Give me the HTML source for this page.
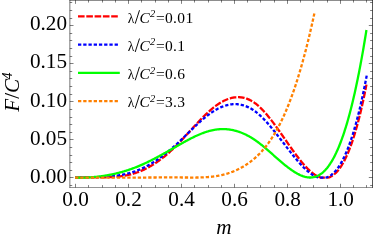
<!DOCTYPE html>
<html><head><meta charset="utf-8"><title>plot</title>
<style>html,body{margin:0;padding:0;background:#fff;}body{width:374px;height:240px;overflow:hidden;font-family:"Liberation Serif",serif;}</style>
</head><body>
<svg width="374" height="240" viewBox="0 0 374 240" style="display:block;will-change:transform">
<rect width="374" height="240" fill="#fff"/>
<g fill="none" stroke-width="2.3" stroke-linecap="butt" stroke-linejoin="round">
<path d="M75.00,177.70 L75.58,177.66 L76.17,177.63 L76.75,177.60 L77.34,177.57 L77.92,177.55 L78.50,177.52 L79.09,177.50 L79.67,177.48 L80.26,177.46 L80.84,177.45 L81.42,177.43 L82.01,177.42 L82.59,177.41 L83.18,177.40 L83.76,177.39 L84.35,177.38 L84.93,177.38 L85.51,177.37 L86.10,177.37 L86.68,177.36 L87.27,177.36 L87.85,177.36 L88.43,177.36 L89.02,177.36 L89.60,177.36 L90.19,177.36 L90.77,177.36 L91.35,177.37 L91.94,177.37 L92.52,177.37 L93.11,177.37 L93.69,177.38 L94.27,177.38 L94.86,177.38 L95.44,177.38 L96.03,177.39 L96.61,177.39 L97.19,177.39 L97.78,177.39 L98.36,177.39 L98.95,177.39 L99.53,177.39 L100.11,177.39 L100.70,177.39 L101.28,177.39 L101.87,177.38 L102.45,177.38 L103.04,177.37 L103.62,177.37 L104.20,177.36 L104.79,177.35 L105.37,177.34 L105.96,177.32 L106.54,177.31 L107.12,177.29 L107.71,177.27 L108.29,177.26 L108.88,177.23 L109.46,177.21 L110.04,177.18 L110.63,177.16 L111.21,177.13 L111.80,177.10 L112.38,177.06 L112.96,177.02 L113.55,176.98 L114.13,176.94 L114.72,176.90 L115.30,176.85 L115.88,176.80 L116.47,176.75 L117.05,176.69 L117.64,176.63 L118.22,176.57 L118.81,176.51 L119.39,176.44 L119.97,176.36 L120.56,176.29 L121.14,176.21 L121.73,176.13 L122.31,176.04 L122.89,175.95 L123.48,175.86 L124.06,175.76 L124.65,175.66 L125.23,175.56 L125.81,175.45 L126.40,175.33 L126.98,175.22 L127.57,175.09 L128.15,174.97 L128.73,174.84 L129.32,174.70 L129.90,174.56 L130.49,174.42 L131.07,174.27 L131.65,174.11 L132.24,173.95 L132.82,173.79 L133.41,173.62 L133.99,173.44 L134.57,173.26 L135.16,173.08 L135.74,172.89 L136.33,172.69 L136.91,172.49 L137.50,172.28 L138.08,172.07 L138.66,171.85 L139.25,171.63 L139.83,171.40 L140.42,171.16 L141.00,170.92 L141.58,170.67 L142.17,170.42 L142.75,170.16 L143.34,169.89 L143.92,169.62 L144.50,169.35 L145.09,169.06 L145.67,168.78 L146.26,168.48 L146.84,168.18 L147.42,167.87 L148.01,167.56 L148.59,167.25 L149.18,166.92 L149.76,166.59 L150.34,166.26 L150.93,165.92 L151.51,165.57 L152.10,165.22 L152.68,164.86 L153.27,164.50 L153.85,164.13 L154.43,163.76 L155.02,163.37 L155.60,162.99 L156.19,162.60 L156.77,162.20 L157.35,161.80 L157.94,161.39 L158.52,160.97 L159.11,160.55 L159.69,160.13 L160.27,159.70 L160.86,159.26 L161.44,158.82 L162.03,158.37 L162.61,157.91 L163.19,157.45 L163.78,156.99 L164.36,156.52 L164.95,156.04 L165.53,155.56 L166.11,155.07 L166.70,154.58 L167.28,154.08 L167.87,153.58 L168.45,153.07 L169.03,152.55 L169.62,152.03 L170.20,151.51 L170.79,150.98 L171.37,150.44 L171.96,149.90 L172.54,149.35 L173.12,148.80 L173.71,148.24 L174.29,147.67 L174.88,147.10 L175.46,146.53 L176.04,145.95 L176.63,145.36 L177.21,144.77 L177.80,144.18 L178.38,143.58 L178.96,142.98 L179.55,142.37 L180.13,141.76 L180.72,141.14 L181.30,140.52 L181.88,139.90 L182.47,139.28 L183.05,138.65 L183.64,138.02 L184.22,137.39 L184.80,136.76 L185.39,136.12 L185.97,135.48 L186.56,134.84 L187.14,134.21 L187.73,133.56 L188.31,132.92 L188.89,132.28 L189.48,131.64 L190.06,131.00 L190.65,130.35 L191.23,129.71 L191.81,129.07 L192.40,128.43 L192.98,127.79 L193.57,127.15 L194.15,126.51 L194.73,125.88 L195.32,125.24 L195.90,124.61 L196.49,123.98 L197.07,123.35 L197.65,122.73 L198.24,122.11 L198.82,121.49 L199.41,120.87 L199.99,120.26 L200.57,119.65 L201.16,119.05 L201.74,118.45 L202.33,117.85 L202.91,117.26 L203.49,116.68 L204.08,116.10 L204.66,115.52 L205.25,114.95 L205.83,114.38 L206.42,113.82 L207.00,113.27 L207.58,112.73 L208.17,112.19 L208.75,111.65 L209.34,111.13 L209.92,110.61 L210.50,110.09 L211.09,109.59 L211.67,109.09 L212.26,108.61 L212.84,108.13 L213.42,107.65 L214.01,107.19 L214.59,106.74 L215.18,106.29 L215.76,105.86 L216.34,105.43 L216.93,105.01 L217.51,104.61 L218.10,104.21 L218.68,103.82 L219.26,103.44 L219.85,103.07 L220.43,102.72 L221.02,102.37 L221.60,102.03 L222.19,101.70 L222.77,101.39 L223.35,101.08 L223.94,100.79 L224.52,100.50 L225.11,100.23 L225.69,99.97 L226.27,99.72 L226.86,99.48 L227.44,99.25 L228.03,99.03 L228.61,98.82 L229.19,98.63 L229.78,98.45 L230.36,98.28 L230.95,98.12 L231.53,97.97 L232.11,97.83 L232.70,97.71 L233.28,97.60 L233.87,97.50 L234.45,97.42 L235.03,97.34 L235.62,97.28 L236.20,97.24 L236.79,97.20 L237.37,97.18 L237.96,97.17 L238.54,97.18 L239.12,97.20 L239.71,97.23 L240.29,97.27 L240.88,97.33 L241.46,97.40 L242.04,97.49 L242.63,97.59 L243.21,97.70 L243.80,97.83 L244.38,97.97 L244.96,98.13 L245.55,98.30 L246.13,98.48 L246.72,98.68 L247.30,98.90 L247.88,99.13 L248.47,99.37 L249.05,99.63 L249.64,99.91 L250.22,100.20 L250.80,100.50 L251.39,100.82 L251.97,101.16 L252.56,101.51 L253.14,101.88 L253.72,102.26 L254.31,102.66 L254.89,103.07 L255.48,103.50 L256.06,103.95 L256.65,104.41 L257.23,104.89 L257.81,105.38 L258.40,105.89 L258.98,106.41 L259.57,106.94 L260.15,107.49 L260.73,108.06 L261.32,108.63 L261.90,109.22 L262.49,109.82 L263.07,110.43 L263.65,111.06 L264.24,111.69 L264.82,112.34 L265.41,113.00 L265.99,113.66 L266.57,114.34 L267.16,115.03 L267.74,115.73 L268.33,116.44 L268.91,117.15 L269.49,117.88 L270.08,118.61 L270.66,119.35 L271.25,120.10 L271.83,120.86 L272.42,121.62 L273.00,122.39 L273.58,123.17 L274.17,123.95 L274.75,124.74 L275.34,125.54 L275.92,126.34 L276.50,127.14 L277.09,127.95 L277.67,128.76 L278.26,129.58 L278.84,130.40 L279.42,131.23 L280.01,132.06 L280.59,132.89 L281.18,133.72 L281.76,134.55 L282.34,135.39 L282.93,136.23 L283.51,137.07 L284.10,137.91 L284.68,138.75 L285.26,139.59 L285.85,140.43 L286.43,141.27 L287.02,142.11 L287.60,142.95 L288.18,143.79 L288.77,144.62 L289.35,145.46 L289.94,146.29 L290.52,147.12 L291.11,147.95 L291.69,148.77 L292.27,149.59 L292.86,150.40 L293.44,151.21 L294.03,152.02 L294.61,152.82 L295.19,153.62 L295.78,154.41 L296.36,155.20 L296.95,155.98 L297.53,156.75 L298.11,157.52 L298.70,158.28 L299.28,159.03 L299.87,159.77 L300.45,160.50 L301.03,161.23 L301.62,161.94 L302.20,162.65 L302.79,163.34 L303.37,164.03 L303.95,164.70 L304.54,165.36 L305.12,166.01 L305.71,166.65 L306.29,167.27 L306.88,167.89 L307.46,168.48 L308.04,169.07 L308.63,169.64 L309.21,170.19 L309.80,170.73 L310.38,171.25 L310.96,171.76 L311.55,172.25 L312.13,172.73 L312.72,173.18 L313.30,173.62 L313.88,174.04 L314.47,174.45 L315.05,174.83 L315.64,175.19 L316.22,175.54 L316.80,175.86 L317.39,176.17 L317.97,176.45 L318.56,176.71 L319.14,176.95 L319.72,177.17 L320.31,177.37 L320.89,177.54 L321.48,177.69 L322.06,177.70 L322.64,177.70 L323.23,177.70 L323.81,177.70 L324.40,177.70 L324.98,177.70 L325.57,177.70 L326.15,177.70 L326.73,177.70 L327.32,177.70 L327.90,177.67 L328.49,177.50 L329.07,177.31 L329.65,177.09 L330.24,176.84 L330.82,176.56 L331.41,176.25 L331.99,175.90 L332.57,175.53 L333.16,175.13 L333.74,174.69 L334.33,174.22 L334.91,173.72 L335.49,173.19 L336.08,172.62 L336.66,172.01 L337.25,171.38 L337.83,170.70 L338.41,170.00 L339.00,169.25 L339.58,168.47 L340.17,167.65 L340.75,166.80 L341.34,165.90 L341.92,164.97 L342.50,164.00 L343.09,162.99 L343.67,161.94 L344.26,160.85 L344.84,159.72 L345.42,158.55 L346.01,157.33 L346.59,156.07 L347.18,154.77 L347.76,153.43 L348.34,152.04 L348.93,150.61 L349.51,149.13 L350.10,147.61 L350.68,146.04 L351.26,144.43 L351.85,142.77 L352.43,141.06 L353.02,139.30 L353.60,137.50 L354.18,135.65 L354.77,133.74 L355.35,131.79 L355.94,129.79 L356.52,127.74 L357.10,125.63 L357.69,123.48 L358.27,121.27 L358.86,119.01 L359.44,116.70 L360.03,114.33 L360.61,111.91 L361.19,109.43 L361.78,106.90 L362.36,104.32 L362.95,101.68 L363.53,98.98 L364.11,96.22 L364.70,93.41 L365.28,90.54 L365.87,87.61 L366.45,84.62" stroke="#ff0000" stroke-dasharray="6.6 1.7"/>
<path d="M75.00,177.70 L75.58,177.67 L76.17,177.64 L76.75,177.62 L77.34,177.59 L77.92,177.57 L78.51,177.55 L79.09,177.52 L79.68,177.50 L80.26,177.49 L80.85,177.47 L81.43,177.45 L82.01,177.43 L82.60,177.42 L83.18,177.40 L83.77,177.39 L84.35,177.38 L84.94,177.36 L85.52,177.35 L86.11,177.34 L86.69,177.33 L87.28,177.31 L87.86,177.30 L88.45,177.29 L89.03,177.28 L89.61,177.27 L90.20,177.26 L90.78,177.25 L91.37,177.24 L91.95,177.23 L92.54,177.21 L93.12,177.20 L93.71,177.19 L94.29,177.18 L94.88,177.16 L95.46,177.15 L96.04,177.13 L96.63,177.12 L97.21,177.10 L97.80,177.08 L98.38,177.07 L98.97,177.05 L99.55,177.03 L100.14,177.00 L100.72,176.98 L101.31,176.96 L101.89,176.93 L102.47,176.91 L103.06,176.88 L103.64,176.85 L104.23,176.82 L104.81,176.79 L105.40,176.75 L105.98,176.71 L106.57,176.68 L107.15,176.64 L107.74,176.60 L108.32,176.55 L108.91,176.51 L109.49,176.46 L110.07,176.41 L110.66,176.36 L111.24,176.30 L111.83,176.24 L112.41,176.18 L113.00,176.12 L113.58,176.06 L114.17,175.99 L114.75,175.92 L115.34,175.85 L115.92,175.77 L116.50,175.69 L117.09,175.61 L117.67,175.53 L118.26,175.44 L118.84,175.35 L119.43,175.25 L120.01,175.16 L120.60,175.06 L121.18,174.95 L121.77,174.84 L122.35,174.73 L122.93,174.62 L123.52,174.50 L124.10,174.38 L124.69,174.25 L125.27,174.12 L125.86,173.99 L126.44,173.85 L127.03,173.71 L127.61,173.56 L128.20,173.41 L128.78,173.26 L129.36,173.10 L129.95,172.94 L130.53,172.77 L131.12,172.60 L131.70,172.42 L132.29,172.24 L132.87,172.06 L133.46,171.87 L134.04,171.67 L134.63,171.47 L135.21,171.27 L135.80,171.06 L136.38,170.84 L136.96,170.62 L137.55,170.40 L138.13,170.17 L138.72,169.93 L139.30,169.69 L139.89,169.44 L140.47,169.19 L141.06,168.93 L141.64,168.67 L142.23,168.40 L142.81,168.13 L143.39,167.85 L143.98,167.56 L144.56,167.28 L145.15,166.98 L145.73,166.68 L146.32,166.38 L146.90,166.07 L147.49,165.75 L148.07,165.43 L148.66,165.11 L149.24,164.78 L149.82,164.44 L150.41,164.10 L150.99,163.76 L151.58,163.41 L152.16,163.05 L152.75,162.69 L153.33,162.33 L153.92,161.96 L154.50,161.59 L155.09,161.21 L155.67,160.82 L156.26,160.44 L156.84,160.04 L157.42,159.65 L158.01,159.24 L158.59,158.84 L159.18,158.42 L159.76,158.01 L160.35,157.59 L160.93,157.16 L161.52,156.73 L162.10,156.30 L162.69,155.86 L163.27,155.41 L163.85,154.97 L164.44,154.51 L165.02,154.06 L165.61,153.60 L166.19,153.13 L166.78,152.66 L167.36,152.19 L167.95,151.71 L168.53,151.23 L169.12,150.74 L169.70,150.25 L170.28,149.76 L170.87,149.26 L171.45,148.75 L172.04,148.25 L172.62,147.73 L173.21,147.22 L173.79,146.70 L174.38,146.18 L174.96,145.65 L175.55,145.12 L176.13,144.58 L176.72,144.04 L177.30,143.50 L177.88,142.95 L178.47,142.41 L179.05,141.85 L179.64,141.30 L180.22,140.74 L180.81,140.19 L181.39,139.63 L181.98,139.06 L182.56,138.50 L183.15,137.93 L183.73,137.37 L184.31,136.80 L184.90,136.23 L185.48,135.66 L186.07,135.09 L186.65,134.52 L187.24,133.95 L187.82,133.38 L188.41,132.81 L188.99,132.24 L189.58,131.67 L190.16,131.10 L190.74,130.53 L191.33,129.97 L191.91,129.40 L192.50,128.84 L193.08,128.28 L193.67,127.72 L194.25,127.16 L194.84,126.61 L195.42,126.05 L196.01,125.50 L196.59,124.96 L197.17,124.41 L197.76,123.87 L198.34,123.34 L198.93,122.80 L199.51,122.28 L200.10,121.75 L200.68,121.23 L201.27,120.71 L201.85,120.20 L202.44,119.70 L203.02,119.19 L203.61,118.70 L204.19,118.21 L204.77,117.72 L205.36,117.24 L205.94,116.77 L206.53,116.30 L207.11,115.84 L207.70,115.39 L208.28,114.94 L208.87,114.50 L209.45,114.07 L210.04,113.64 L210.62,113.22 L211.20,112.81 L211.79,112.41 L212.37,112.01 L212.96,111.63 L213.54,111.25 L214.13,110.88 L214.71,110.52 L215.30,110.17 L215.88,109.83 L216.47,109.50 L217.05,109.17 L217.63,108.86 L218.22,108.55 L218.80,108.26 L219.39,107.97 L219.97,107.70 L220.56,107.43 L221.14,107.18 L221.73,106.93 L222.31,106.69 L222.90,106.47 L223.48,106.25 L224.07,106.04 L224.65,105.85 L225.23,105.66 L225.82,105.49 L226.40,105.32 L226.99,105.17 L227.57,105.02 L228.16,104.89 L228.74,104.77 L229.33,104.65 L229.91,104.55 L230.50,104.46 L231.08,104.38 L231.66,104.31 L232.25,104.26 L232.83,104.21 L233.42,104.17 L234.00,104.15 L234.59,104.14 L235.17,104.13 L235.76,104.14 L236.34,104.16 L236.93,104.20 L237.51,104.24 L238.09,104.30 L238.68,104.37 L239.26,104.44 L239.85,104.54 L240.43,104.64 L241.02,104.76 L241.60,104.88 L242.19,105.02 L242.77,105.17 L243.36,105.34 L243.94,105.51 L244.53,105.70 L245.11,105.90 L245.69,106.12 L246.28,106.34 L246.86,106.58 L247.45,106.84 L248.03,107.10 L248.62,107.38 L249.20,107.67 L249.79,107.97 L250.37,108.29 L250.96,108.62 L251.54,108.96 L252.12,109.31 L252.71,109.68 L253.29,110.07 L253.88,110.46 L254.46,110.87 L255.05,111.30 L255.63,111.73 L256.22,112.18 L256.80,112.64 L257.39,113.12 L257.97,113.61 L258.55,114.11 L259.14,114.62 L259.72,115.15 L260.31,115.68 L260.89,116.23 L261.48,116.79 L262.06,117.35 L262.65,117.93 L263.23,118.52 L263.82,119.12 L264.40,119.73 L264.98,120.34 L265.57,120.97 L266.15,121.60 L266.74,122.24 L267.32,122.89 L267.91,123.55 L268.49,124.22 L269.08,124.89 L269.66,125.57 L270.25,126.26 L270.83,126.95 L271.42,127.65 L272.00,128.36 L272.58,129.07 L273.17,129.78 L273.75,130.50 L274.34,131.23 L274.92,131.96 L275.51,132.70 L276.09,133.43 L276.68,134.18 L277.26,134.92 L277.85,135.67 L278.43,136.42 L279.01,137.17 L279.60,137.93 L280.18,138.69 L280.77,139.45 L281.35,140.21 L281.94,140.97 L282.52,141.73 L283.11,142.50 L283.69,143.26 L284.28,144.03 L284.86,144.79 L285.44,145.55 L286.03,146.32 L286.61,147.08 L287.20,147.84 L287.78,148.60 L288.37,149.35 L288.95,150.11 L289.54,150.86 L290.12,151.61 L290.71,152.35 L291.29,153.10 L291.88,153.84 L292.46,154.57 L293.04,155.30 L293.63,156.03 L294.21,156.75 L294.80,157.47 L295.38,158.18 L295.97,158.89 L296.55,159.59 L297.14,160.28 L297.72,160.97 L298.31,161.65 L298.89,162.32 L299.47,162.98 L300.06,163.64 L300.64,164.29 L301.23,164.92 L301.81,165.55 L302.40,166.17 L302.98,166.77 L303.57,167.37 L304.15,167.95 L304.74,168.53 L305.32,169.09 L305.90,169.63 L306.49,170.17 L307.07,170.69 L307.66,171.19 L308.24,171.68 L308.83,172.16 L309.41,172.62 L310.00,173.07 L310.58,173.50 L311.17,173.91 L311.75,174.31 L312.34,174.68 L312.92,175.05 L313.50,175.39 L314.09,175.71 L314.67,176.02 L315.26,176.30 L315.84,176.57 L316.43,176.81 L317.01,177.04 L317.60,177.24 L318.18,177.42 L318.77,177.58 L319.35,177.70 L319.93,177.70 L320.52,177.70 L321.10,177.70 L321.69,177.70 L322.27,177.70 L322.86,177.70 L323.44,177.70 L324.03,177.70 L324.61,177.70 L325.20,177.70 L325.78,177.62 L326.36,177.46 L326.95,177.27 L327.53,177.04 L328.12,176.79 L328.70,176.52 L329.29,176.21 L329.87,175.87 L330.46,175.50 L331.04,175.10 L331.63,174.67 L332.21,174.20 L332.79,173.71 L333.38,173.18 L333.96,172.62 L334.55,172.02 L335.13,171.40 L335.72,170.73 L336.30,170.04 L336.89,169.30 L337.47,168.54 L338.06,167.73 L338.64,166.89 L339.23,166.02 L339.81,165.10 L340.39,164.15 L340.98,163.16 L341.56,162.13 L342.15,161.07 L342.73,159.96 L343.32,158.81 L343.90,157.63 L344.49,156.40 L345.07,155.13 L345.66,153.82 L346.24,152.47 L346.82,151.08 L347.41,149.65 L347.99,148.17 L348.58,146.64 L349.16,145.08 L349.75,143.47 L350.33,141.81 L350.92,140.11 L351.50,138.37 L352.09,136.57 L352.67,134.74 L353.25,132.85 L353.84,130.92 L354.42,128.94 L355.01,126.91 L355.59,124.83 L356.18,122.70 L356.76,120.53 L357.35,118.30 L357.93,116.03 L358.52,113.70 L359.10,111.32 L359.69,108.90 L360.27,106.41 L360.85,103.88 L361.44,101.30 L362.02,98.66 L362.61,95.96 L363.19,93.22 L363.78,90.42 L364.36,87.56 L364.95,84.65 L365.53,81.68 L366.12,78.66 L366.70,75.58" stroke="#0000ff" stroke-dasharray="3.3 1.9466"/>
<path d="M75.00,177.70 L75.58,177.70 L76.17,177.70 L76.75,177.70 L77.34,177.70 L77.92,177.70 L78.50,177.70 L79.09,177.70 L79.67,177.70 L80.26,177.70 L80.84,177.70 L81.42,177.69 L82.01,177.68 L82.59,177.67 L83.18,177.66 L83.76,177.64 L84.35,177.62 L84.93,177.60 L85.51,177.58 L86.10,177.55 L86.68,177.52 L87.27,177.50 L87.85,177.47 L88.43,177.43 L89.02,177.40 L89.60,177.36 L90.19,177.32 L90.77,177.28 L91.35,177.24 L91.94,177.20 L92.52,177.15 L93.11,177.10 L93.69,177.05 L94.27,177.00 L94.86,176.94 L95.44,176.89 L96.03,176.83 L96.61,176.77 L97.19,176.70 L97.78,176.64 L98.36,176.57 L98.95,176.50 L99.53,176.43 L100.11,176.36 L100.70,176.28 L101.28,176.20 L101.87,176.12 L102.45,176.04 L103.04,175.95 L103.62,175.87 L104.20,175.78 L104.79,175.68 L105.37,175.59 L105.96,175.49 L106.54,175.39 L107.12,175.29 L107.71,175.19 L108.29,175.09 L108.88,174.98 L109.46,174.87 L110.04,174.75 L110.63,174.64 L111.21,174.52 L111.80,174.40 L112.38,174.28 L112.96,174.16 L113.55,174.03 L114.13,173.90 L114.72,173.77 L115.30,173.63 L115.88,173.50 L116.47,173.36 L117.05,173.21 L117.64,173.07 L118.22,172.92 L118.81,172.77 L119.39,172.62 L119.97,172.47 L120.56,172.31 L121.14,172.15 L121.73,171.99 L122.31,171.83 L122.89,171.66 L123.48,171.49 L124.06,171.32 L124.65,171.14 L125.23,170.96 L125.81,170.78 L126.40,170.60 L126.98,170.42 L127.57,170.23 L128.15,170.04 L128.73,169.84 L129.32,169.65 L129.90,169.45 L130.49,169.25 L131.07,169.04 L131.65,168.83 L132.24,168.62 L132.82,168.41 L133.41,168.20 L133.99,167.98 L134.57,167.76 L135.16,167.53 L135.74,167.31 L136.33,167.08 L136.91,166.84 L137.50,166.61 L138.08,166.37 L138.66,166.13 L139.25,165.89 L139.83,165.64 L140.42,165.39 L141.00,165.14 L141.58,164.88 L142.17,164.62 L142.75,164.36 L143.34,164.10 L143.92,163.84 L144.50,163.57 L145.09,163.30 L145.67,163.02 L146.26,162.75 L146.84,162.47 L147.42,162.19 L148.01,161.91 L148.59,161.63 L149.18,161.34 L149.76,161.05 L150.34,160.76 L150.93,160.47 L151.51,160.17 L152.10,159.88 L152.68,159.58 L153.27,159.28 L153.85,158.98 L154.43,158.67 L155.02,158.37 L155.60,158.06 L156.19,157.75 L156.77,157.44 L157.35,157.13 L157.94,156.82 L158.52,156.50 L159.11,156.19 L159.69,155.87 L160.27,155.55 L160.86,155.23 L161.44,154.91 L162.03,154.59 L162.61,154.27 L163.19,153.95 L163.78,153.62 L164.36,153.30 L164.95,152.97 L165.53,152.64 L166.11,152.31 L166.70,151.98 L167.28,151.65 L167.87,151.32 L168.45,150.99 L169.03,150.66 L169.62,150.33 L170.20,150.00 L170.79,149.66 L171.37,149.33 L171.96,149.00 L172.54,148.66 L173.12,148.33 L173.71,147.99 L174.29,147.66 L174.88,147.32 L175.46,146.99 L176.04,146.65 L176.63,146.32 L177.21,145.98 L177.80,145.65 L178.38,145.32 L178.96,144.98 L179.55,144.65 L180.13,144.32 L180.72,143.99 L181.30,143.66 L181.88,143.33 L182.47,143.00 L183.05,142.67 L183.64,142.35 L184.22,142.02 L184.80,141.70 L185.39,141.38 L185.97,141.06 L186.56,140.75 L187.14,140.43 L187.73,140.12 L188.31,139.81 L188.89,139.50 L189.48,139.19 L190.06,138.89 L190.65,138.59 L191.23,138.29 L191.81,138.00 L192.40,137.70 L192.98,137.42 L193.57,137.13 L194.15,136.85 L194.73,136.57 L195.32,136.29 L195.90,136.02 L196.49,135.75 L197.07,135.48 L197.65,135.22 L198.24,134.97 L198.82,134.71 L199.41,134.46 L199.99,134.22 L200.57,133.98 L201.16,133.74 L201.74,133.51 L202.33,133.29 L202.91,133.06 L203.49,132.85 L204.08,132.64 L204.66,132.43 L205.25,132.23 L205.83,132.03 L206.42,131.84 L207.00,131.66 L207.58,131.48 L208.17,131.30 L208.75,131.14 L209.34,130.97 L209.92,130.82 L210.50,130.67 L211.09,130.52 L211.67,130.39 L212.26,130.26 L212.84,130.13 L213.42,130.02 L214.01,129.91 L214.59,129.80 L215.18,129.70 L215.76,129.62 L216.34,129.53 L216.93,129.46 L217.51,129.39 L218.10,129.33 L218.68,129.27 L219.26,129.23 L219.85,129.19 L220.43,129.15 L221.02,129.13 L221.60,129.11 L222.19,129.10 L222.77,129.09 L223.35,129.09 L223.94,129.10 L224.52,129.12 L225.11,129.15 L225.69,129.18 L226.27,129.21 L226.86,129.26 L227.44,129.31 L228.03,129.37 L228.61,129.44 L229.19,129.51 L229.78,129.59 L230.36,129.68 L230.95,129.78 L231.53,129.88 L232.11,129.99 L232.70,130.11 L233.28,130.23 L233.87,130.37 L234.45,130.51 L235.03,130.65 L235.62,130.80 L236.20,130.97 L236.79,131.13 L237.37,131.31 L237.96,131.49 L238.54,131.68 L239.12,131.88 L239.71,132.08 L240.29,132.29 L240.88,132.51 L241.46,132.74 L242.04,132.97 L242.63,133.21 L243.21,133.46 L243.80,133.72 L244.38,133.98 L244.96,134.25 L245.55,134.53 L246.13,134.81 L246.72,135.10 L247.30,135.40 L247.88,135.71 L248.47,136.02 L249.05,136.34 L249.64,136.67 L250.22,137.01 L250.80,137.35 L251.39,137.70 L251.97,138.06 L252.56,138.42 L253.14,138.80 L253.72,139.18 L254.31,139.57 L254.89,139.96 L255.48,140.36 L256.06,140.77 L256.65,141.19 L257.23,141.61 L257.81,142.04 L258.40,142.48 L258.98,142.92 L259.57,143.37 L260.15,143.82 L260.73,144.28 L261.32,144.75 L261.90,145.21 L262.49,145.69 L263.07,146.17 L263.65,146.65 L264.24,147.13 L264.82,147.62 L265.41,148.12 L265.99,148.61 L266.57,149.11 L267.16,149.62 L267.74,150.12 L268.33,150.63 L268.91,151.14 L269.49,151.65 L270.08,152.16 L270.66,152.67 L271.25,153.19 L271.83,153.71 L272.42,154.22 L273.00,154.74 L273.58,155.26 L274.17,155.77 L274.75,156.29 L275.34,156.81 L275.92,157.32 L276.50,157.84 L277.09,158.35 L277.67,158.86 L278.26,159.37 L278.84,159.88 L279.42,160.39 L280.01,160.89 L280.59,161.39 L281.18,161.89 L281.76,162.39 L282.34,162.88 L282.93,163.37 L283.51,163.85 L284.10,164.34 L284.68,164.81 L285.26,165.28 L285.85,165.75 L286.43,166.21 L287.02,166.67 L287.60,167.12 L288.18,167.57 L288.77,168.01 L289.35,168.44 L289.94,168.87 L290.52,169.29 L291.11,169.71 L291.69,170.11 L292.27,170.51 L292.86,170.91 L293.44,171.29 L294.03,171.67 L294.61,172.04 L295.19,172.40 L295.78,172.75 L296.36,173.09 L296.95,173.42 L297.53,173.75 L298.11,174.06 L298.70,174.36 L299.28,174.65 L299.87,174.93 L300.45,175.20 L301.03,175.45 L301.62,175.69 L302.20,175.92 L302.79,176.14 L303.37,176.34 L303.95,176.53 L304.54,176.70 L305.12,176.86 L305.71,177.00 L306.29,177.12 L306.88,177.23 L307.46,177.32 L308.04,177.40 L308.63,177.46 L309.21,177.50 L309.80,177.52 L310.38,177.52 L310.96,177.51 L311.55,177.47 L312.13,177.42 L312.72,177.34 L313.30,177.24 L313.88,177.13 L314.47,176.99 L315.05,176.83 L315.64,176.64 L316.22,176.44 L316.80,176.21 L317.39,175.95 L317.97,175.68 L318.56,175.38 L319.14,175.05 L319.72,174.70 L320.31,174.33 L320.89,173.92 L321.48,173.49 L322.06,173.04 L322.64,172.56 L323.23,172.05 L323.81,171.51 L324.40,170.94 L324.98,170.35 L325.57,169.73 L326.15,169.07 L326.73,168.39 L327.32,167.68 L327.90,166.93 L328.49,166.16 L329.07,165.35 L329.65,164.51 L330.24,163.64 L330.82,162.74 L331.41,161.80 L331.99,160.83 L332.57,159.83 L333.16,158.79 L333.74,157.72 L334.33,156.61 L334.91,155.47 L335.49,154.29 L336.08,153.08 L336.66,151.82 L337.25,150.53 L337.83,149.21 L338.41,147.84 L339.00,146.44 L339.58,145.00 L340.17,143.52 L340.75,142.00 L341.34,140.44 L341.92,138.84 L342.50,137.20 L343.09,135.52 L343.67,133.80 L344.26,132.03 L344.84,130.22 L345.42,128.37 L346.01,126.48 L346.59,124.55 L347.18,122.57 L347.76,120.54 L348.34,118.47 L348.93,116.36 L349.51,114.20 L350.10,111.99 L350.68,109.74 L351.26,107.45 L351.85,105.10 L352.43,102.71 L353.02,100.27 L353.60,97.78 L354.18,95.24 L354.77,92.66 L355.35,90.02 L355.94,87.33 L356.52,84.60 L357.10,81.81 L357.69,78.98 L358.27,76.09 L358.86,73.15 L359.44,70.15 L360.03,67.11 L360.61,64.01 L361.19,60.86 L361.78,57.65 L362.36,54.39 L362.95,51.08 L363.53,47.71 L364.11,44.29 L364.70,40.81 L365.28,37.27 L365.87,33.68 L366.45,30.03" stroke="#00ff00"/>
<path d="M75.00,177.70 L75.48,177.70 L75.96,177.70 L76.44,177.70 L76.92,177.70 L77.40,177.70 L77.88,177.70 L78.36,177.70 L78.84,177.70 L79.32,177.70 L79.80,177.70 L80.28,177.70 L80.76,177.70 L81.24,177.70 L81.72,177.70 L82.20,177.70 L82.68,177.70 L83.16,177.70 L83.64,177.70 L84.12,177.70 L84.60,177.70 L85.08,177.70 L85.56,177.70 L86.04,177.70 L86.52,177.70 L87.00,177.70 L87.48,177.70 L87.96,177.70 L88.44,177.70 L88.92,177.70 L89.40,177.70 L89.88,177.70 L90.36,177.70 L90.84,177.70 L91.32,177.70 L91.80,177.70 L92.28,177.70 L92.76,177.70 L93.24,177.70 L93.72,177.70 L94.20,177.70 L94.68,177.70 L95.16,177.70 L95.64,177.70 L96.12,177.70 L96.60,177.70 L97.08,177.70 L97.56,177.70 L98.04,177.70 L98.52,177.70 L99.00,177.70 L99.48,177.70 L99.96,177.70 L100.44,177.70 L100.92,177.70 L101.40,177.70 L101.88,177.70 L102.36,177.70 L102.84,177.70 L103.32,177.70 L103.80,177.70 L104.28,177.70 L104.76,177.70 L105.24,177.70 L105.72,177.70 L106.20,177.70 L106.68,177.70 L107.16,177.70 L107.64,177.70 L108.12,177.70 L108.60,177.70 L109.08,177.70 L109.56,177.70 L110.04,177.70 L110.52,177.70 L111.00,177.70 L111.48,177.70 L111.96,177.70 L112.44,177.70 L112.92,177.70 L113.40,177.70 L113.88,177.70 L114.36,177.70 L114.84,177.70 L115.32,177.70 L115.80,177.70 L116.28,177.70 L116.76,177.70 L117.24,177.70 L117.72,177.70 L118.20,177.70 L118.68,177.70 L119.16,177.70 L119.64,177.70 L120.12,177.70 L120.60,177.70 L121.08,177.70 L121.56,177.70 L122.04,177.70 L122.52,177.69 L123.00,177.69 L123.48,177.69 L123.96,177.68 L124.44,177.68 L124.92,177.68 L125.40,177.68 L125.88,177.67 L126.36,177.67 L126.84,177.66 L127.32,177.66 L127.80,177.66 L128.28,177.65 L128.76,177.65 L129.24,177.65 L129.72,177.64 L130.20,177.64 L130.68,177.64 L131.16,177.63 L131.64,177.63 L132.12,177.63 L132.60,177.62 L133.08,177.62 L133.56,177.62 L134.04,177.61 L134.52,177.61 L134.99,177.61 L135.47,177.60 L135.95,177.60 L136.43,177.60 L136.91,177.59 L137.39,177.59 L137.87,177.59 L138.35,177.58 L138.83,177.58 L139.31,177.58 L139.79,177.57 L140.27,177.57 L140.75,177.57 L141.23,177.56 L141.71,177.56 L142.19,177.56 L142.67,177.55 L143.15,177.55 L143.63,177.55 L144.11,177.54 L144.59,177.54 L145.07,177.54 L145.55,177.53 L146.03,177.53 L146.51,177.53 L146.99,177.53 L147.47,177.52 L147.95,177.52 L148.43,177.52 L148.91,177.51 L149.39,177.51 L149.87,177.51 L150.35,177.51 L150.83,177.50 L151.31,177.50 L151.79,177.50 L152.27,177.50 L152.75,177.49 L153.23,177.49 L153.71,177.49 L154.19,177.49 L154.67,177.48 L155.15,177.48 L155.63,177.48 L156.11,177.48 L156.59,177.47 L157.07,177.47 L157.55,177.47 L158.03,177.47 L158.51,177.47 L158.99,177.47 L159.47,177.46 L159.95,177.46 L160.43,177.46 L160.91,177.46 L161.39,177.46 L161.87,177.46 L162.35,177.46 L162.83,177.45 L163.31,177.45 L163.79,177.45 L164.27,177.45 L164.75,177.45 L165.23,177.45 L165.71,177.45 L166.19,177.45 L166.67,177.45 L167.15,177.45 L167.63,177.45 L168.11,177.45 L168.59,177.45 L169.07,177.45 L169.55,177.45 L170.03,177.45 L170.51,177.45 L170.99,177.45 L171.47,177.45 L171.95,177.45 L172.43,177.45 L172.91,177.45 L173.39,177.45 L173.87,177.45 L174.35,177.45 L174.83,177.45 L175.31,177.45 L175.79,177.45 L176.27,177.45 L176.75,177.46 L177.23,177.46 L177.71,177.46 L178.19,177.46 L178.67,177.46 L179.15,177.46 L179.63,177.47 L180.11,177.47 L180.59,177.47 L181.07,177.47 L181.55,177.48 L182.03,177.48 L182.51,177.48 L182.99,177.48 L183.47,177.49 L183.95,177.49 L184.43,177.49 L184.91,177.50 L185.39,177.50 L185.87,177.50 L186.35,177.51 L186.83,177.51 L187.31,177.52 L187.79,177.52 L188.27,177.52 L188.75,177.53 L189.23,177.53 L189.71,177.53 L190.19,177.53 L190.67,177.54 L191.15,177.54 L191.63,177.54 L192.11,177.54 L192.59,177.54 L193.07,177.54 L193.55,177.54 L194.03,177.54 L194.51,177.54 L194.99,177.54 L195.47,177.53 L195.95,177.53 L196.43,177.52 L196.91,177.52 L197.39,177.51 L197.87,177.50 L198.35,177.50 L198.83,177.49 L199.31,177.48 L199.79,177.46 L200.27,177.45 L200.75,177.44 L201.23,177.42 L201.71,177.41 L202.19,177.39 L202.67,177.37 L203.15,177.35 L203.63,177.33 L204.11,177.30 L204.59,177.28 L205.07,177.25 L205.55,177.22 L206.03,177.19 L206.51,177.16 L206.99,177.13 L207.47,177.09 L207.95,177.06 L208.43,177.02 L208.91,176.98 L209.39,176.94 L209.87,176.89 L210.35,176.85 L210.83,176.80 L211.31,176.75 L211.79,176.69 L212.27,176.64 L212.75,176.58 L213.23,176.52 L213.71,176.46 L214.19,176.40 L214.67,176.33 L215.15,176.26 L215.63,176.19 L216.11,176.12 L216.59,176.04 L217.07,175.96 L217.55,175.88 L218.03,175.80 L218.51,175.71 L218.99,175.62 L219.47,175.53 L219.95,175.43 L220.43,175.34 L220.91,175.24 L221.39,175.13 L221.87,175.02 L222.35,174.91 L222.83,174.80 L223.31,174.69 L223.79,174.57 L224.27,174.44 L224.75,174.32 L225.23,174.19 L225.71,174.06 L226.19,173.92 L226.67,173.78 L227.15,173.64 L227.63,173.49 L228.11,173.34 L228.59,173.19 L229.07,173.03 L229.55,172.87 L230.03,172.71 L230.51,172.54 L230.99,172.37 L231.47,172.19 L231.95,172.01 L232.43,171.83 L232.91,171.64 L233.39,171.45 L233.87,171.26 L234.35,171.06 L234.83,170.85 L235.31,170.65 L235.79,170.43 L236.27,170.22 L236.75,170.00 L237.23,169.77 L237.71,169.54 L238.19,169.31 L238.67,169.07 L239.15,168.83 L239.63,168.58 L240.11,168.33 L240.59,168.08 L241.07,167.82 L241.55,167.55 L242.03,167.28 L242.51,167.01 L242.99,166.73 L243.47,166.44 L243.95,166.15 L244.43,165.86 L244.91,165.56 L245.39,165.25 L245.87,164.94 L246.35,164.63 L246.83,164.31 L247.31,163.99 L247.79,163.66 L248.27,163.32 L248.75,162.98 L249.23,162.63 L249.71,162.28 L250.19,161.93 L250.67,161.56 L251.15,161.19 L251.63,160.82 L252.11,160.44 L252.59,160.06 L253.07,159.66 L253.55,159.27 L254.03,158.86 L254.51,158.45 L254.98,158.03 L255.46,157.61 L255.94,157.18 L256.42,156.74 L256.90,156.29 L257.38,155.84 L257.86,155.38 L258.34,154.91 L258.82,154.44 L259.30,153.95 L259.78,153.46 L260.26,152.96 L260.74,152.45 L261.22,151.94 L261.70,151.41 L262.18,150.88 L262.66,150.34 L263.14,149.79 L263.62,149.23 L264.10,148.66 L264.58,148.08 L265.06,147.49 L265.54,146.90 L266.02,146.29 L266.50,145.68 L266.98,145.05 L267.46,144.41 L267.94,143.77 L268.42,143.11 L268.90,142.44 L269.38,141.77 L269.86,141.08 L270.34,140.38 L270.82,139.67 L271.30,138.95 L271.78,138.22 L272.26,137.47 L272.74,136.72 L273.22,135.95 L273.70,135.18 L274.18,134.39 L274.66,133.58 L275.14,132.77 L275.62,131.95 L276.10,131.11 L276.58,130.26 L277.06,129.39 L277.54,128.52 L278.02,127.63 L278.50,126.73 L278.98,125.81 L279.46,124.88 L279.94,123.94 L280.42,122.99 L280.90,122.02 L281.38,121.04 L281.86,120.04 L282.34,119.03 L282.82,118.01 L283.30,116.97 L283.78,115.92 L284.26,114.85 L284.74,113.77 L285.22,112.67 L285.70,111.56 L286.18,110.43 L286.66,109.29 L287.14,108.14 L287.62,106.96 L288.10,105.78 L288.58,104.57 L289.06,103.35 L289.54,102.12 L290.02,100.87 L290.50,99.60 L290.98,98.32 L291.46,97.02 L291.94,95.70 L292.42,94.37 L292.90,93.02 L293.38,91.65 L293.86,90.26 L294.34,88.86 L294.82,87.44 L295.30,86.01 L295.78,84.55 L296.26,83.08 L296.74,81.59 L297.22,80.09 L297.70,78.56 L298.18,77.02 L298.66,75.46 L299.14,73.87 L299.62,72.28 L300.10,70.66 L300.58,69.02 L301.06,67.37 L301.54,65.69 L302.02,64.00 L302.50,62.28 L302.98,60.55 L303.46,58.80 L303.94,57.03 L304.42,55.23 L304.90,53.42 L305.38,51.59 L305.86,49.74 L306.34,47.86 L306.82,45.97 L307.30,44.05 L307.78,42.12 L308.26,40.16 L308.74,38.19 L309.22,36.19 L309.70,34.17 L310.18,32.13 L310.66,30.06 L311.14,27.98 L311.62,25.87 L312.10,23.75 L312.58,21.60 L313.06,19.42 L313.54,17.23 L314.02,15.01 L314.50,12.77" stroke="#ff8000" stroke-dasharray="3.3 1.93"/>
<path d="M78,16.30 L118,16.30" stroke="#ff0000" stroke-dasharray="6.6 1.7"/>
<path d="M78,44.58 L118,44.58" stroke="#0000ff" stroke-dasharray="3.3 1.93"/>
<path d="M78,72.86 L119.8,72.86" stroke="#00ff00" stroke-dasharray=""/>
<path d="M78,101.14 L118,101.14" stroke="#ff8000" stroke-dasharray="3.3 1.93"/>
</g>
<g stroke="#000" fill="none">
<path d="M69.87,0 V187.8" stroke-width="0.55"/>
<path d="M69.47,0.15 H372.83" stroke-width="0.7"/>
<path d="M69.47,187.5 H372.83" stroke-width="0.42"/>
<path d="M372.5,0 V187.8" stroke-width="0.67"/>
<path d="M75.50,187.5 v-3.7 M75.50,0.15 v3.7 M88.50,187.5 v-2.4 M88.50,0.15 v2.4 M102.50,187.5 v-2.4 M102.50,0.15 v2.4 M115.50,187.5 v-2.4 M115.50,0.15 v2.4 M128.50,187.5 v-3.7 M128.50,0.15 v3.7 M141.50,187.5 v-2.4 M141.50,0.15 v2.4 M155.50,187.5 v-2.4 M155.50,0.15 v2.4 M168.50,187.5 v-2.4 M168.50,0.15 v2.4 M181.50,187.5 v-3.7 M181.50,0.15 v3.7 M194.50,187.5 v-2.4 M194.50,0.15 v2.4 M208.50,187.5 v-2.4 M208.50,0.15 v2.4 M221.50,187.5 v-2.4 M221.50,0.15 v2.4 M234.50,187.5 v-3.7 M234.50,0.15 v3.7 M247.50,187.5 v-2.4 M247.50,0.15 v2.4 M260.50,187.5 v-2.4 M260.50,0.15 v2.4 M274.50,187.5 v-2.4 M274.50,0.15 v2.4 M287.50,187.5 v-3.7 M287.50,0.15 v3.7 M300.50,187.5 v-2.4 M300.50,0.15 v2.4 M313.50,187.5 v-2.4 M313.50,0.15 v2.4 M327.50,187.5 v-2.4 M327.50,0.15 v2.4 M340.50,187.5 v-3.7 M340.50,0.15 v3.7 M353.50,187.5 v-2.4 M353.50,0.15 v2.4 M366.50,187.5 v-2.4 M366.50,0.15 v2.4 M69.83,185.50 h2.4 M372.5,185.50 h-2.4 M69.83,177.50 h3.7 M372.5,177.50 h-3.7 M69.83,170.50 h2.4 M372.5,170.50 h-2.4 M69.83,162.50 h2.4 M372.5,162.50 h-2.4 M69.83,155.50 h2.4 M372.5,155.50 h-2.4 M69.83,147.50 h2.4 M372.5,147.50 h-2.4 M69.83,139.50 h3.7 M372.5,139.50 h-3.7 M69.83,132.50 h2.4 M372.5,132.50 h-2.4 M69.83,124.50 h2.4 M372.5,124.50 h-2.4 M69.83,117.50 h2.4 M372.5,117.50 h-2.4 M69.83,109.50 h2.4 M372.5,109.50 h-2.4 M69.83,101.50 h3.7 M372.5,101.50 h-3.7 M69.83,94.50 h2.4 M372.5,94.50 h-2.4 M69.83,86.50 h2.4 M372.5,86.50 h-2.4 M69.83,78.50 h2.4 M372.5,78.50 h-2.4 M69.83,71.50 h2.4 M372.5,71.50 h-2.4 M69.83,63.50 h3.7 M372.5,63.50 h-3.7 M69.83,56.50 h2.4 M372.5,56.50 h-2.4 M69.83,48.50 h2.4 M372.5,48.50 h-2.4 M69.83,40.50 h2.4 M372.5,40.50 h-2.4 M69.83,33.50 h2.4 M372.5,33.50 h-2.4 M69.83,25.50 h3.7 M372.5,25.50 h-3.7 M69.83,18.50 h2.4 M372.5,18.50 h-2.4 M69.83,10.50 h2.4 M372.5,10.50 h-2.4 M69.83,2.50 h2.4 M372.5,2.50 h-2.4" stroke-width="0.5"/>
</g>
<g font-family="Liberation Serif, serif" font-size="21.2" fill="#000">
<text x="75.5" y="206" text-anchor="middle">0.0</text>
<text x="128.5" y="206" text-anchor="middle">0.2</text>
<text x="181.6" y="206" text-anchor="middle">0.4</text>
<text x="234.6" y="206" text-anchor="middle">0.6</text>
<text x="287.7" y="206" text-anchor="middle">0.8</text>
<text x="340.7" y="206" text-anchor="middle">1.0</text>
<text x="67" y="182.6" text-anchor="end">0.00</text>
<text x="67" y="144.5" text-anchor="end">0.05</text>
<text x="67" y="106.5" text-anchor="end">0.10</text>
<text x="67" y="68.4" text-anchor="end">0.15</text>
<text x="67" y="30.4" text-anchor="end">0.20</text>
</g>
<text x="224" y="234" font-family="Liberation Serif, serif" font-style="italic" font-size="21.2" text-anchor="middle">m</text>
<text transform="translate(19.3,92.1) rotate(-90)" font-family="Liberation Serif, serif" font-size="21.2" text-anchor="middle"><tspan font-style="italic">F</tspan>/<tspan font-style="italic">C</tspan><tspan font-style="italic" font-size="14" dy="-7" dx="-0.7">4</tspan></text>
<text y="22.6" font-family="Liberation Serif, serif" font-size="15.5"><tspan x="127.8" textLength="6.6" lengthAdjust="spacingAndGlyphs">λ</tspan><tspan x="139.5" font-style="italic">C</tspan><tspan x="150" font-size="10.5" dy="-5.5" font-style="italic">2</tspan><tspan x="155.9" dy="5.5">=</tspan><tspan x="165" letter-spacing="0.35">0.01</tspan></text>
<path d="M135.2,23.7 L139.5,10.2" stroke="#000" stroke-width="0.95" fill="none"/>
<text y="50.9" font-family="Liberation Serif, serif" font-size="15.5"><tspan x="127.8" textLength="6.6" lengthAdjust="spacingAndGlyphs">λ</tspan><tspan x="139.5" font-style="italic">C</tspan><tspan x="150" font-size="10.5" dy="-5.5" font-style="italic">2</tspan><tspan x="155.9" dy="5.5">=</tspan><tspan x="165" letter-spacing="0.35">0.1</tspan></text>
<path d="M135.2,52.0 L139.5,38.5" stroke="#000" stroke-width="0.95" fill="none"/>
<text y="79.2" font-family="Liberation Serif, serif" font-size="15.5"><tspan x="127.8" textLength="6.6" lengthAdjust="spacingAndGlyphs">λ</tspan><tspan x="139.5" font-style="italic">C</tspan><tspan x="150" font-size="10.5" dy="-5.5" font-style="italic">2</tspan><tspan x="155.9" dy="5.5">=</tspan><tspan x="165" letter-spacing="0.35">0.6</tspan></text>
<path d="M135.2,80.3 L139.5,66.8" stroke="#000" stroke-width="0.95" fill="none"/>
<text y="107.4" font-family="Liberation Serif, serif" font-size="15.5"><tspan x="127.8" textLength="6.6" lengthAdjust="spacingAndGlyphs">λ</tspan><tspan x="139.5" font-style="italic">C</tspan><tspan x="150" font-size="10.5" dy="-5.5" font-style="italic">2</tspan><tspan x="155.9" dy="5.5">=</tspan><tspan x="165" letter-spacing="0.35">3.3</tspan></text>
<path d="M135.2,108.5 L139.5,95.0" stroke="#000" stroke-width="0.95" fill="none"/>
</svg>
</body></html>
